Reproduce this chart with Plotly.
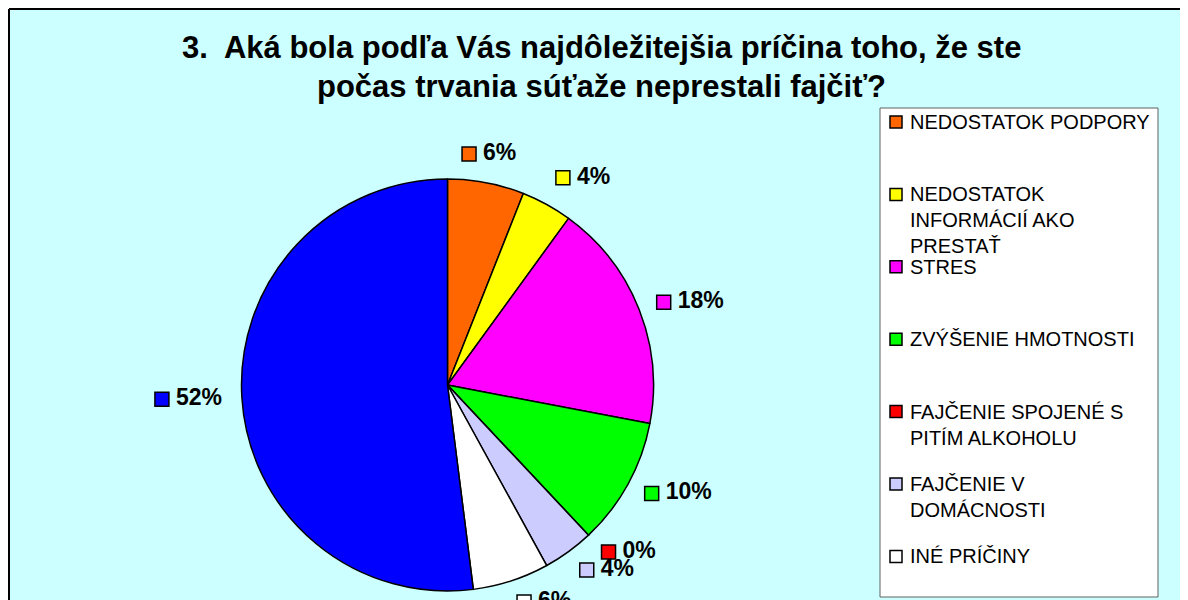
import math
import plotly.graph_objects as go

# data
title_lines = ["3.\u00a0 Aká bola podľa Vás najdôležitejšia príčina toho, že ste",
               "počas trvania súťaže neprestali fajčiť?"]
categories = ["NEDOSTATOK PODPORY",
              "NEDOSTATOK<br>INFORMÁCIÍ AKO<br>PRESTAŤ",
              "STRES",
              "ZVÝŠENIE HMOTNOSTI",
              "FAJČENIE SPOJENÉ S<br>PITÍM ALKOHOLU",
              "FAJČENIE V<br>DOMÁCNOSTI",
              "INÉ PRÍČINY",
              "OSTATNÉ"]
values = [6, 4, 18, 10, 0, 4, 6, 52]
colors = ["#FF6600", "#FFFF00", "#FF00FF", "#00FF00", "#FF0000", "#CCCCFF", "#FFFFFF", "#0000FF"]
legend_count = 7  # the last entry falls below the visible area

# the page has an 8px body margin, so the figure covers page pixels 8..1188 x 8..600
OFF = 8
W, H = 1188 - OFF, 600 - OFF
FONT = "Liberation Sans, Arial, sans-serif"

# pie geometry in page pixels
cx, cy, R = 447.5, 385, 206
label_r = 225

fig = go.Figure()

fig.add_trace(go.Pie(
    labels=categories, values=values, sort=False, direction="clockwise", rotation=0,
    marker=dict(colors=colors, line=dict(color="black", width=1.5)),
    textinfo="none", hoverinfo="label+percent", showlegend=False,
    domain=dict(x=[(cx - OFF - R) / W, (cx - OFF + R) / W],
                y=[1 - (cy - OFF + R) / H, 1 - (cy - OFF - R) / H]),
))

# data labels: square + "n%" placed along each slice's mid angle
fs = 23
sq = 14
sq_x, sq_y, txt = [], [], []
total = sum(values)
cum = 0
for v in values:
    mid = math.radians((cum + v / 2) / total * 360)
    cum += v
    s, c = math.sin(mid), math.cos(mid)
    ax, ay = cx + label_r * s, cy - label_r * c
    label = f"{round(v / total * 100)}%"
    tw = sum(0.889 * fs if ch == "%" else 0.556 * fs for ch in label)
    box_w = sq + 8 + tw
    if s > 0.25:
        left = ax
    elif s < -0.25:
        left = ax - box_w
    else:
        left = ax - box_w / 2
    if c > 0.5:
        ymid = ay - 10
    elif c < -0.5:
        ymid = ay + 3
    else:
        ymid = ay
    sq_x.append(left + sq / 2)
    sq_y.append(ymid)
    txt.append(label)

fig.add_trace(go.Scatter(
    x=sq_x, y=sq_y, mode="markers", showlegend=False, hoverinfo="skip",
    marker=dict(symbol="square", size=sq, color=colors, line=dict(color="black", width=1.5)),
))
fig.add_trace(go.Scatter(
    x=[x + 14 for x in sq_x], y=sq_y, mode="text", text=txt, textposition="middle right",
    showlegend=False, hoverinfo="skip",
    textfont=dict(family=FONT, size=fs, color="black", weight="bold"),
))

# hand-made legend box
leg_x0, leg_x1, leg_y0, leg_y1 = 880, 1158, 108, 597
item_y = [122 + i * 72.4 for i in range(legend_count)]
fig.add_trace(go.Scatter(
    x=[896] * legend_count, y=item_y, mode="markers", showlegend=False, hoverinfo="skip",
    marker=dict(symbol="square", size=12, color=colors[:legend_count], line=dict(color="black", width=1.5)),
))
for i in range(legend_count):
    fig.add_annotation(x=908, y=item_y[i] - 13, xref="x", yref="y", text=categories[i],
                       showarrow=False, xanchor="left", yanchor="top", align="left",
                       font=dict(family=FONT, size=20, color="black"))

# chart area: only its left and top edges are inside the picture
fig.add_shape(type="rect", xref="x", yref="y", x0=9, y0=9, x1=1600, y1=1000,
              fillcolor="#CCFFFF", line=dict(width=0), layer="below")
fig.add_shape(type="line", xref="x", yref="y", x0=9, y0=9, x1=1600, y1=9,
              line=dict(color="black", width=2), layer="below")
fig.add_shape(type="line", xref="x", yref="y", x0=9, y0=9, x1=9, y1=1000,
              line=dict(color="black", width=2), layer="below")
fig.add_shape(type="rect", xref="x", yref="y", x0=leg_x0, y0=leg_y0, x1=leg_x1, y1=leg_y1,
              fillcolor="white", line=dict(color="#606060", width=1), layer="below")

for line, y in zip(title_lines, [47.5, 86.5]):
    fig.add_annotation(x=601, y=y, xref="x", yref="y", text=line, showarrow=False,
                       xanchor="center", yanchor="middle",
                       font=dict(family=FONT, size=31, color="black", weight="bold"))

fig.update_xaxes(range=[OFF, 1188], visible=False, fixedrange=True)
fig.update_yaxes(range=[600, OFF], visible=False, fixedrange=True)
fig.update_layout(width=W, height=H, margin=dict(l=0, r=0, t=0, b=0),
                  paper_bgcolor="white", plot_bgcolor="rgba(0,0,0,0)")

fig.write_html("out.html")
